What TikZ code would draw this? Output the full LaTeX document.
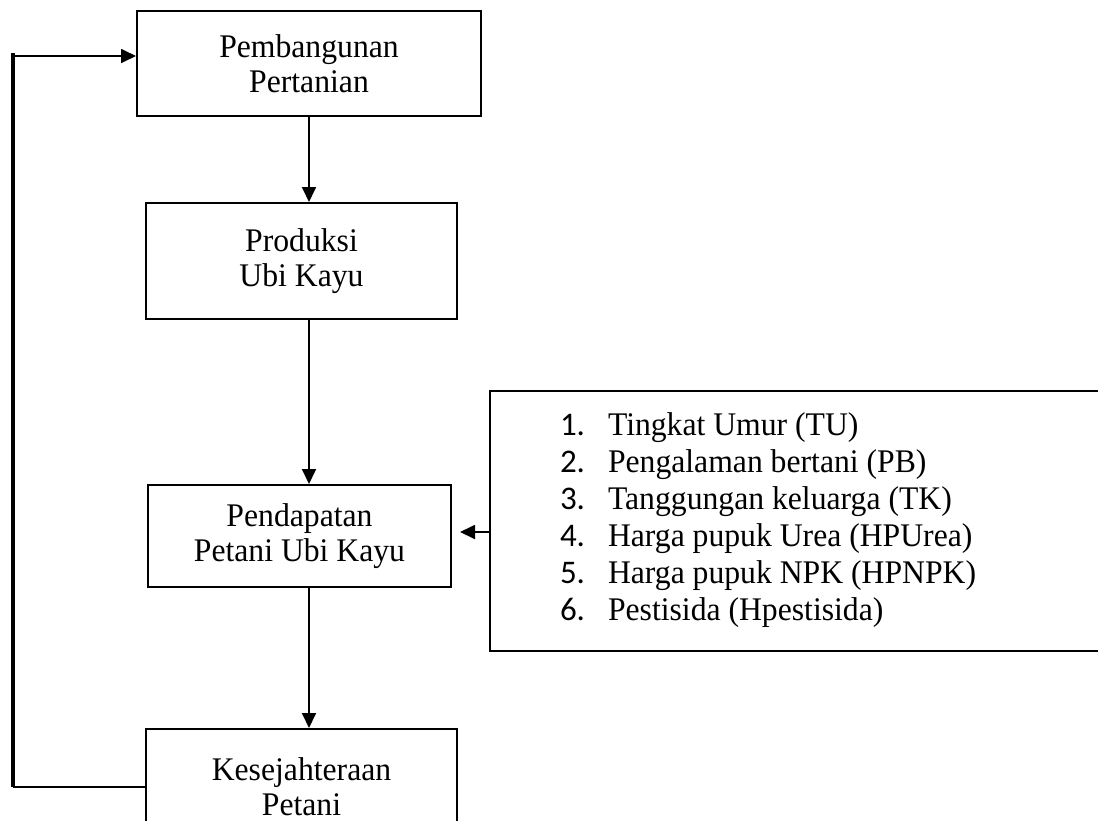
\documentclass[tikz,border=0pt]{standalone}
\usepackage{fontspec}
\setmainfont[FakeStretch=0.96]{Liberation Serif}
\newfontfamily\angka{Carlito}
\usetikzlibrary{arrows.meta,positioning}
\tikzset{
  kotak/.style={
    draw=black, line width=1pt, align=center,
    font=\fontsize{16.5}{17.5}\selectfont
  },
  daftar/.style={
    draw=black, line width=1pt, align=left,
    minimum width=305.5pt, minimum height=130pt,
    text width=235.5pt, inner xsep=35pt,
    font=\fontsize{16.5}{18.5}\selectfont
  },
  panah/.style={-{Triangle[length=7.5pt,width=7pt]}, line width=0.9pt, draw=black},
  garis/.style={line width=1pt, draw=black},
  tebal/.style={line width=1.8pt, draw=black}
}
\newcommand{\butir}[2]{{\angka #1.} & #2\\}

\begin{document}
\begin{tikzpicture}[x=0.5pt,y=-0.5pt]
        \useasboundingbox (0,0) rectangle (1098,820);
        \node[kotak,minimum width=172pt,minimum height=52.5pt] (pemb) at (309,63.5) {Pembangunan\\Pertanian};
        \node[kotak,minimum width=155.5pt,minimum height=58pt,below=42.5pt of pemb,xshift=-3.75pt] (prod) {Produksi\\Ubi Kayu};
        \node[kotak,minimum width=151.5pt,minimum height=51pt,below=82pt of prod,xshift=-1pt] (pend) {Pendapatan\\Petani Ubi Kayu};
        \node[kotak,minimum width=155.5pt,minimum height=58pt,below=70pt of pend,xshift=1pt] (kes) {Kesejahteraan\\Petani};
        \node[daftar,right=18.5pt of pend,yshift=7.5pt] (faktor) {%
          \spaceskip=0pt\xspaceskip=0pt
          \begin{tabular}{@{}p{24pt}@{}l@{}}
          \butir{1}{Tingkat Umur (TU)}
          \butir{2}{Pengalaman bertani (PB)}
          \butir{3}{Tanggungan keluarga (TK)}
          \butir{4}{Harga pupuk Urea (HPUrea)}
          \butir{5}{Harga pupuk NPK (HPNPK)}
          \butir{6}{Pestisida (Hpestisida)}
          \end{tabular}};
        \coordinate (sudut) at (13,53);
        \coordinate (masuk) at ([yshift=3.75pt]pemb.west);
        \coordinate (kiri) at ([yshift=2pt]pend.east);
        % alur utama
        \draw[panah] (pemb.south) -- (pemb.south |- prod.north);
        \draw[panah] (pemb.south |- prod.south) -- (pemb.south |- pend.north);
        \draw[panah] (pemb.south |- pend.south) -- (pemb.south |- kes.north);
        \draw[panah,shorten >=4pt] (faktor.west |- kiri) -- (kiri);
        % umpan balik
        \draw[garis] (kes.west) -- (sudut |- kes.west);
        \draw[tebal] (sudut |- kes.west) -- (sudut);
        \draw[panah] (masuk -| sudut) -- (masuk);
      \end{tikzpicture}
\end{document}
